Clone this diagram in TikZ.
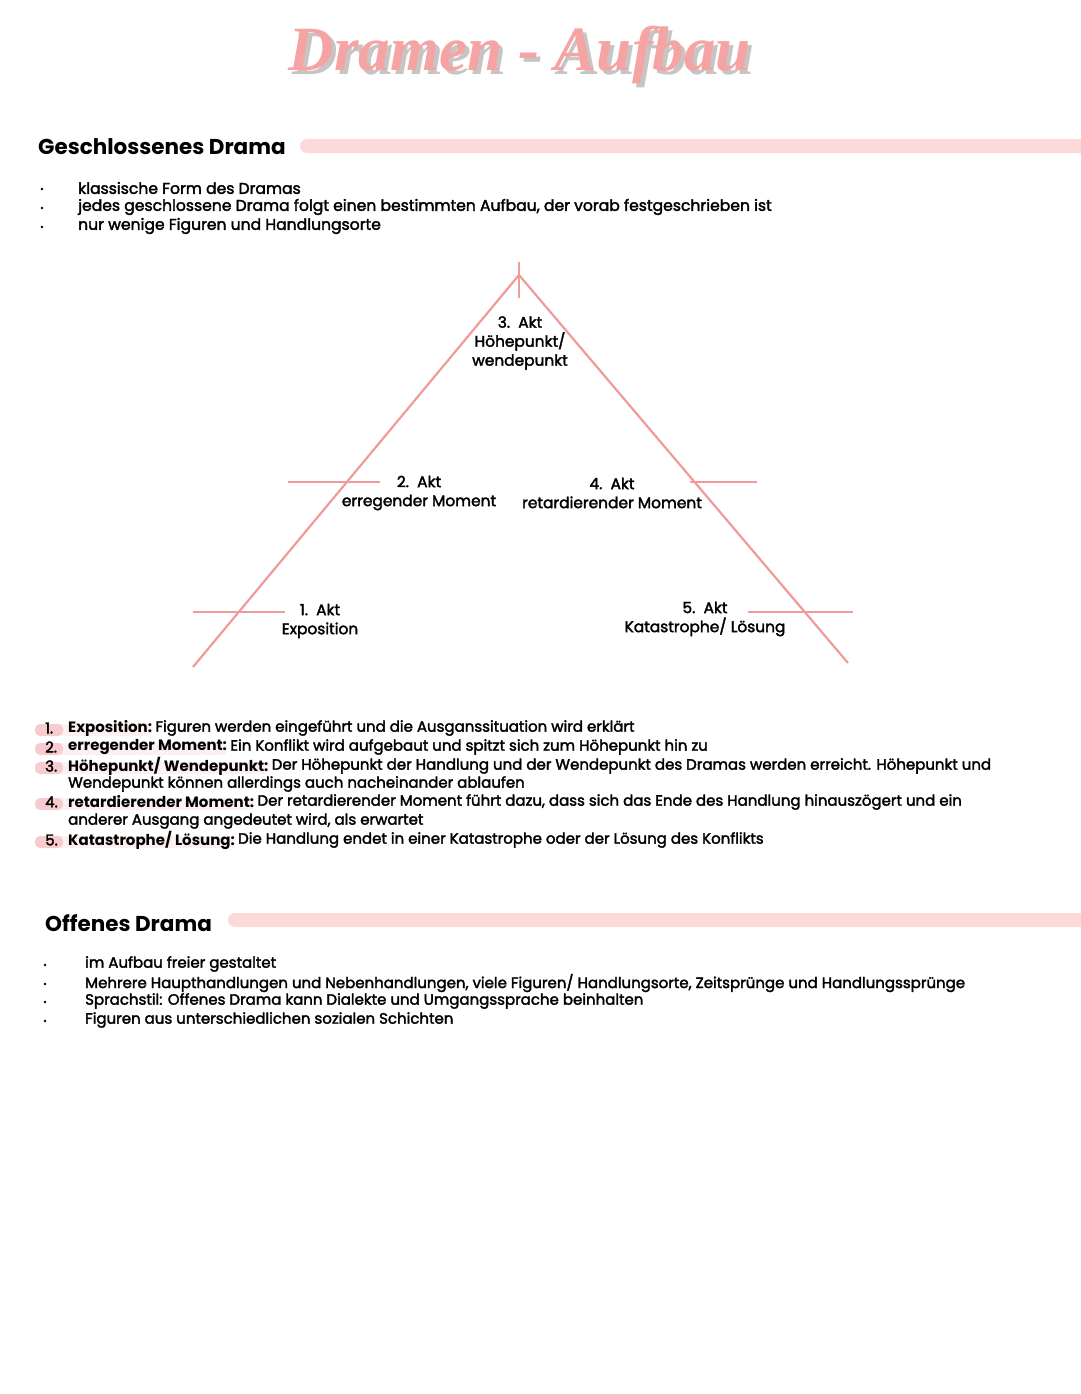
\documentclass[tikz,border=0pt]{standalone}
\usepackage{fontspec}
\setmainfont{Poppins}
\newfontfamily\medfont{Poppins}[FakeBold=2.2]
\newfontfamily\titlefont{Liberation Serif}
\usetikzlibrary{backgrounds}
\definecolor{tri}{HTML}{F09A9A}
\definecolor{barpink}{HTML}{FDD9D9}
\definecolor{hl}{HTML}{F8CCCE}
\definecolor{titlepink}{HTML}{F5A3A3}
\definecolor{shadowgray}{HTML}{C8C4C4}
\tikzset{
  txt/.style={anchor=west, inner sep=0pt, font=\fontsize{15}{17}\selectfont\medfont},
  txtbig/.style={anchor=west, inner sep=0pt, font=\fontsize{15.6}{17}\selectfont\medfont},
  term/.style={anchor=west, inner sep=0pt, font=\fontsize{15}{17}\selectfont\bfseries},
  head/.style={anchor=west, inner sep=0pt, font=\fontsize{21.5}{24}\selectfont\bfseries},
  lbl/.style={anchor=center, inner sep=0pt, align=center, font=\fontsize{15.4}{19}\selectfont\medfont},
  leg/.style={draw=tri, line width=2.2pt},
  tick/.style={draw=tri, line width=2.6pt},
  bar/.style={fill=barpink, rounded corners=7pt},
  dot/.style={circle, fill=black, inner sep=0pt, minimum size=2.8pt}
}
\newcommand{\titletext}{Dramen - Aufbau}
\begin{document}
\begin{tikzpicture}[x=1pt,y=-1pt]
\useasboundingbox (0,0) rectangle (1080,1394);
% title (shadow + main in one node)
\node[inner sep=0pt, font=\fontsize{63}{66}\selectfont\titlefont\bfseries\itshape] (title) at (520,57)
  {\rlap{\hspace{4pt}\raisebox{-4pt}{\textcolor{shadowgray}{\titletext}}}\textcolor{titlepink}{\titletext}};
% section 1
\node[head] (h1) at (38,147) {Geschlossenes Drama};
\fill[bar] (300,139) rectangle (1094,153);
\foreach \yy/\tt [count=\i] in {188/klassische Form des Dramas, 207/{jedes geschlossene Drama folgt einen bestimmten Aufbau, der vorab festgeschrieben ist}, 226/nur wenige Figuren und Handlungsorte}{
  \node[dot] (d\i) at (42,\yy+1) {};
  \node[txtbig] (b\i) at (78,\yy) {\tt};
}
% triangle
\coordinate (apex) at (519,275);
\coordinate (bl) at (193,667);
\coordinate (br) at (848,663);
\coordinate (vt) at (519,262);
\coordinate (vb) at (519,298);
\draw[leg] (bl) -- (apex) -- (br);
\draw[tick] (vt) -- (vb);
\coordinate (t2a) at (288,482); \coordinate (t2b) at (380,482);
\coordinate (t4a) at (690,482); \coordinate (t4b) at (757,482);
\coordinate (t1a) at (193,612); \coordinate (t1b) at (285,612);
\coordinate (t5a) at (748,612); \coordinate (t5b) at (853,612);
\draw[tick] (t2a) -- (t2b);
\draw[tick] (t4a) -- (t4b);
\draw[tick] (t1a) -- (t1b);
\draw[tick] (t5a) -- (t5b);
\node[lbl] (akt3) at (520,343) {3.\ \ Akt\\Höhepunkt/\\wendepunkt};
\node[lbl] (akt2) at (419,493) {2.\ \ Akt\\erregender Moment};
\node[lbl] (akt4) at (612,493) {4.\ \ Akt\\retardierender Moment};
\node[lbl] (akt1) at (320,621) {1.\ \ Akt\\Exposition};
\node[lbl] (akt5) at (705,619) {5.\ \ Akt\\Katastrophe/ Lösung};
% numbered list
\node[txt] (n1) at (45,728) {1.};
\node[term] (k1) at (68,728) {Exposition:};
\node[txt] (r1) at ([xshift=3pt]k1.east) {Figuren werden eingeführt und die Ausganssituation wird erklärt};
\node[txt] (n2) at (45,747) {2.};
\node[term] (k2) at (68,747) {erregender Moment:};
\node[txt] (r2) at ([xshift=3pt]k2.east) {Ein Konflikt wird aufgebaut und spitzt sich zum Höhepunkt hin zu};
\node[txt] (n3) at (45,766) {3.};
\node[term] (k3) at (68,766) {Höhepunkt/ Wendepunkt:};
\node[txt] (r3) at ([xshift=3pt]k3.east) {Der Höhepunkt der Handlung und der Wendepunkt des Dramas werden erreicht. Höhepunkt und};
\node[txt] (c3) at (68,784) {Wendepunkt können allerdings auch nacheinander ablaufen};
\node[txt] (n4) at (45,802) {4.};
\node[term] (k4) at (68,802) {retardierender Moment:};
\node[txt] (r4) at ([xshift=3pt]k4.east) {Der retardierender Moment führt dazu, dass sich das Ende des Handlung hinauszögert und ein};
\node[txt] (c4) at (68,821) {anderer Ausgang angedeutet wird, als erwartet};
\node[txt] (n5) at (45,840) {5.};
\node[term] (k5) at (68,840) {Katastrophe/ Lösung:};
\node[txt] (r5) at ([xshift=3pt]k5.east) {Die Handlung endet in einer Katastrophe oder der Lösung des Konflikts};
\begin{scope}[on background layer]
  \foreach \i/\yy in {1/728,2/747,3/766,4/802,5/840}{
    \fill[hl, rounded corners=5pt, opacity=0.3] (35,\yy-4) rectangle (k\i.east |- 0,\yy+8);
    \fill[hl, rounded corners=5pt] (35,\yy-4) rectangle (63,\yy+8);
  }
\end{scope}
% section 2
\node[head] (h2) at (45,923) {Offenes Drama};
\fill[bar] (228,913) rectangle (1094,927);
\foreach \yy/\tt [count=\i] in {964/im Aufbau freier gestaltet, 983/{Mehrere Haupthandlungen und Nebenhandlungen, viele Figuren/ Handlungsorte, Zeitsprünge und Handlungssprünge}, 1001/Sprachstil: Offenes Drama kann Dialekte und Umgangssprache beinhalten, 1020/Figuren aus unterschiedlichen sozialen Schichten}{
  \node[dot] (e\i) at (45,\yy+1) {};
  \node[txt] (o\i) at (85,\yy) {\tt};
}
\end{tikzpicture}
\end{document}
